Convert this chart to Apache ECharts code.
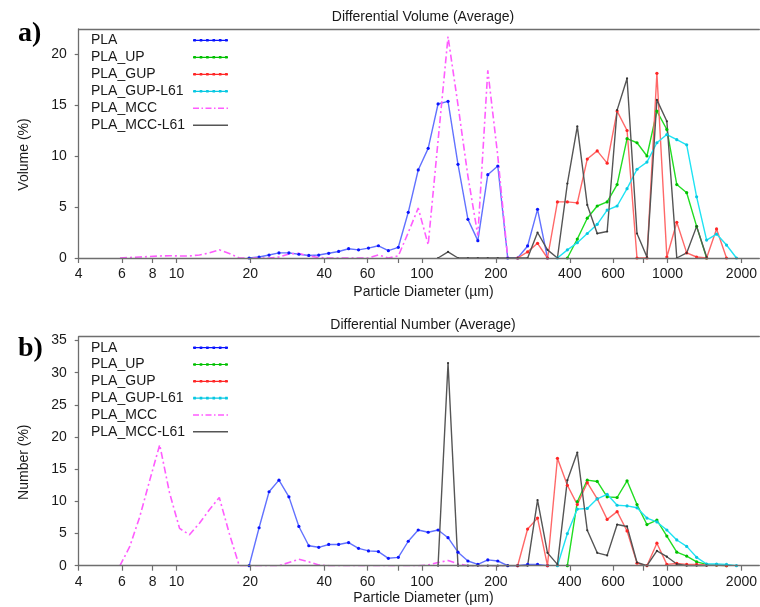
<!DOCTYPE html>
<html><head><meta charset="utf-8">
<script src="https://cdn.jsdelivr.net/npm/echarts@6/dist/echarts.min.js"></script>
<style>html,body{margin:0;padding:0;background:#fff}#c{width:760px;height:607px}</style>
</head><body><div id="c"></div>
<script>
const _ = null;
// particle size bins (µm)
const diameters = [
  5.36, 5.89, 6.46, 7.09, 7.79, 8.55, 9.38, 10.30,
  11.30, 12.41, 13.62, 14.95, 16.42, 18.02, 19.78, 21.71,
  23.84, 26.16, 28.72, 31.53, 34.61, 37.99, 41.71, 45.78,
  50.26, 55.17, 60.56, 66.48, 72.98, 80.12, 87.95, 96.55,
  106.0, 116.3, 127.7, 140.2, 153.9, 168.9, 185.4, 203.6,
  223.5, 245.3, 269.3, 295.6, 324.5, 356.2, 391.0, 429.2,
  471.2, 517.3, 567.8, 623.4, 684.3, 751.2, 824.6, 905.3,
  993.8, 1091, 1197, 1314, 1443, 1584, 1739, 1909];

const seriesNames = ['PLA', 'PLA_UP', 'PLA_GUP', 'PLA_GUP-L61', 'PLA_MCC', 'PLA_MCC-L61'];

// a) Differential Volume (%)
const volPLA = [
  _,_,_,_,_,_,_,_,
  _,_,_,_,_,_, 0, 0.1,
  0.29, 0.5, 0.5, 0.37, 0.25, 0.29, 0.46, 0.64,
  0.91, 0.8, 0.97, 1.2, 0.72, 1.05, 4.48, 8.63,
  10.75, 15.1, 15.36, 9.18, 3.79, 1.7, 8.17, 9.02,
  0, 0, 1.18, 4.77, 0, _,_,_,
  _,_,_,_,_,_,_,_,
  _,_,_,_,_,_,_,_];
const volUP = [
  _,_,_,_,_,_,_,_,
  _,_,_,_,_,_,_,_,
  _,_,_,_,_,_,_,_,
  _,_,_,_,_,_,_,_,
  _,_,_,_,_,_,_,_,
  _,_,_,_,_,_, 0, 1.86,
  3.9, 5.1, 5.5, 7.2, 11.7, 11.3, 10.0, 14.4,
  12.6, 7.2, 6.4, 3.1, 0, _,_,_];
const volGUP = [
  _,_,_,_,_,_,_,_,
  _,_,_,_,_,_,_,_,
  _,_,_,_,_,_,_,_,
  _,_,_,_,_,_,_,_,
  _,_,_,_,_,_,_,_,
  _, 0, 0.6, 1.44, 0, 5.5, 5.5, 5.4,
  9.7, 10.5, 9.3, 14.4, 12.5, 0, 0, 18.1,
  0.1, 3.5, 0.5, 0.1, 0, 2.85, 0, _];
const volGUPL61 = [
  _,_,_,_,_,_,_,_,
  _,_,_,_,_,_,_,_,
  _,_,_,_,_,_,_,_,
  _,_,_,_,_,_,_,_,
  _,_,_,_,_,_,_,_,
  _,_,_,_,_, 0, 0.8, 1.5,
  2.4, 3.3, 4.7, 5.1, 6.8, 8.7, 9.4, 11.3,
  12.1, 11.6, 11.1, 6.0, 1.76, 2.35, 1.27, 0];
const volMCC = [
  _, 0, 0.05, 0.1, 0.15, 0.2, 0.22, 0.2,
  0.2, 0.3, 0.5, 0.8, 0.45, 0, 0, 0,
  0, 0.1, 0.4, 0.45, 0.2, 0.05, 0, 0,
  0, 0, 0, 0.3, 0, 0.2, 2.5, 4.9,
  1.3, 11.5, 21.7, 15, 8, 2.2, 18.4, 10,
  0, _,_,_,_,_,_,_,
  _,_,_,_,_,_,_,_,
  _,_,_,_,_,_,_,_];
const volMCCL61 = [
  _,_,_,_,_,_,_,_,
  _,_,_,_,_,_,_,_,
  _,_,_,_,_,_,_,_,
  _,_,_,_,_,_,_,_,
  _, 0, 0.6, 0, 0, 0, 0, 0,
  0, 0, 0, 2.5, 0.8, 0, 7.3, 12.9,
  5.2, 2.4, 2.6, 14.5, 17.6, 2.4, 0.1, 15.5,
  13.4, 0, 0.5, 3.1, 0.1, _,_,_];

// b) Differential Number (%)
const numPLA = [
  _,_,_,_,_,_,_,_,
  _,_,_,_,_,_, 0, 5.9,
  11.5, 13.3, 10.7, 6.1, 3.1, 2.86, 3.3, 3.3,
  3.6, 2.7, 2.3, 2.2, 1.15, 1.3, 3.8, 5.55,
  5.2, 5.55, 4.35, 2.1, 0.73, 0.2, 0.9, 0.73,
  0, 0, 0.2, 0.2, 0, _,_,_,
  _,_,_,_,_,_,_,_,
  _,_,_,_,_,_,_,_];
const numUP = [
  _,_,_,_,_,_,_,_,
  _,_,_,_,_,_,_,_,
  _,_,_,_,_,_,_,_,
  _,_,_,_,_,_,_,_,
  _,_,_,_,_,_,_,_,
  _,_,_,_,_,_, 0, 9.95,
  13.3, 13.1, 10.7, 10.6, 13.2, 9.5, 6.4, 7.1,
  4.6, 2.1, 1.5, 0.6, 0.2, 0.1, 0, _];
const numGUP = [
  _,_,_,_,_,_,_,_,
  _,_,_,_,_,_,_,_,
  _,_,_,_,_,_,_,_,
  _,_,_,_,_,_,_,_,
  _,_,_,_,_,_,_,_,
  _, 0, 5.7, 7.4, 0, 16.7, 12.5, 9.5,
  12.9, 10.4, 7.2, 8.4, 5.4, 0.4, 0, 3.5,
  0.2, 0.35, 0.2, 0.2, 0.1, 0.1, 0, _];
const numGUPL61 = [
  _,_,_,_,_,_,_,_,
  _,_,_,_,_,_,_,_,
  _,_,_,_,_,_,_,_,
  _,_,_,_,_,_,_,_,
  _,_,_,_,_,_,_,_,
  _,_,_,_,_, 0, 5.0, 8.8,
  8.9, 10.4, 11.1, 9.4, 9.3, 9.0, 7.4, 6.8,
  5.55, 4.0, 3.0, 1.3, 0.26, 0.26, 0.2, 0];
const numMCC = [
  _, 0, 3.0, 7.6, 13.3, 18.8, 11.3, 5.8,
  4.8, 6.6, 8.7, 10.6, 5.0, 0, 0, 0,
  0, 0, 0.5, 1.0, 0.6, 0.1, 0, 0,
  0, 0, 0, 0, 0, 0, 0, 0,
  0.1, 0.5, 0.8, 0.3, 0, 0, 0, 0,
  0, _,_,_,_,_,_,_,
  _,_,_,_,_,_,_,_,
  _,_,_,_,_,_,_,_];
const numMCCL61 = [
  _,_,_,_,_,_,_,_,
  _,_,_,_,_,_,_,_,
  _,_,_,_,_,_,_,_,
  _,_,_,_,_,_,_,_,
  _, 0, 31.5, 0, 0, 0, 0, 0,
  0, 0, 0, 10.2, 2.0, 0.2, 13.3, 17.6,
  5.5, 2.0, 1.6, 6.4, 6.1, 0.5, 0, 2.3,
  1.4, 0.26, 0, 0, 0, _,_,_];

const xLabelValues = [4, 6, 8, 10, 20, 40, 60, 100, 200, 400, 600, 1000, 2000];
const xTickValues = [4, 6, 8, 10, 20, 40, 60, 80, 100, 200, 400, 600, 800, 1000, 2000];
const volTicks = [0, 5, 10, 15, 20];
const numTicks = [0, 5, 10, 15, 20, 25, 30, 35];
const xRange = [4, 2365];
const volMax = 22.45, numMax = 35.6;

// ---------- styling ----------
const FONT = 'Liberation Sans, Arial, sans-serif';
const TXT = '#1a1a1a';
const AX = '#6e6e6e';
const styles = [
  {line: '#6272ff', dot: '#0a14ff', size: 3.2, w: 1.4, type: 'solid'},
  {line: '#22dd22', dot: '#00c000', size: 3.2, w: 1.4, type: 'solid'},
  {line: '#ff6868', dot: '#ff2626', size: 3.2, w: 1.4, type: 'solid'},
  {line: '#1fe3f3', dot: '#08c8e2', size: 3.2, w: 1.4, type: 'solid'},
  {line: '#ff5cff', dot: '#ff5cff', size: 0, w: 1.6, type: [7, 3, 2, 3]},
  {line: '#555555', dot: '#333333', size: 2.2, w: 1.4, type: 'solid'}
];
function dotsPath() {
  let p = 'path://M0,0.7H35V1.9H0Z';
  [1.6, 8, 14.4, 20.8, 27.2, 33.4].forEach(c => {
    p += 'M' + (c - 1.3) + ',0h2.6v2.6h-2.6Z';
  });
  return p;
}
const dashDotPath = 'path://M0,0H6V1.5H0Z M8.5,0H10V1.5H8.5Z M12.5,0H18.5V1.5H12.5Z M21,0H22.5V1.5H21Z M25,0H31V1.5H25Z M33.5,0H35V1.5H33.5Z';
const solidPath = 'path://M0,0H35V1.4H0Z';
const legendIcons = [dotsPath(), dotsPath(), dotsPath(), dotsPath(), dashDotPath, solidPath];

const lg = v => Math.log10(v);
const GL = 78.7, GW = 681.3;
const grids = [
  {left: GL, top: 29, width: GW, height: 229},
  {left: GL, top: 336.7, width: GW, height: 229}
];

function mainX(gi, gap) {
  return {
    type: 'value', gridIndex: gi, min: lg(xRange[0]), max: lg(xRange[1]), z: 3,
    splitLine: {show: false},
    axisLine: {show: true, onZero: false, lineStyle: {color: AX, width: 1.3}},
    axisTick: {show: true, length: 5, lineStyle: {color: AX, width: 1.2}, customValues: xTickValues.map(lg)},
    axisLabel: {show: true, margin: 9.5, fontSize: 14, fontFamily: FONT, color: TXT,
      customValues: xLabelValues.map(lg), formatter: v => String(Math.round(Math.pow(10, v)))},
    name: 'Particle Diameter (\u00b5m)', nameLocation: 'middle', nameGap: gap,
    nameTextStyle: {fontSize: 14, fontFamily: FONT, color: TXT, padding: [0, 0, 0, 9]}
  };
}
function topX(gi) {
  return {
    type: 'value', gridIndex: gi, position: 'top', min: 0, max: 1,
    splitLine: {show: false}, axisTick: {show: false}, axisLabel: {show: false},
    axisLine: {show: true, onZero: false, lineStyle: {color: AX, width: 1.3}}
  };
}
function mainY(gi, max, ticks, name) {
  return {
    type: 'value', gridIndex: gi, min: 0, max: max,
    splitLine: {show: false},
    axisLine: {show: true, onZero: false, lineStyle: {color: AX, width: 1.3}},
    axisTick: {show: true, length: 4, lineStyle: {color: AX, width: 1.2}, customValues: ticks},
    axisLabel: {margin: 12, fontSize: 14, fontFamily: FONT, color: TXT, customValues: ticks},
    name: name, nameLocation: 'middle', nameGap: 48,
    nameTextStyle: {fontSize: 14, fontFamily: FONT, color: TXT, padding: [0, 22, 0, 0]}
  };
}

function mkSeries(name, gi, arr, st) {
  const data = [];
  diameters.forEach((d, i) => { if (arr[i] !== null) data.push([lg(d), arr[i]]); });
  return {
    name: name, type: 'line', xAxisIndex: gi, yAxisIndex: gi, data: data,
    symbol: st.size > 0 ? 'circle' : 'none', symbolSize: st.size, showAllSymbol: true,
    itemStyle: {color: st.dot, borderWidth: 0},
    lineStyle: {color: st.line, width: st.w, type: st.type},
    emphasis: {disabled: true}, animation: false, z: 2
  };
}

function mkLegend(top, gap) {
  return {
    orient: 'vertical', left: 91, top: top, padding: 0, itemGap: gap,
    itemWidth: 35, itemHeight: 14, align: 'right', selectedMode: false,
    data: seriesNames.map((n, k) => ({
      name: n, icon: legendIcons[k],
      itemStyle: {color: styles[k].dot === '#333333' ? '#555555' : styles[k].dot, borderWidth: 0}
    })),
    formatter: '{a|{name}}',
    textStyle: {fontSize: 14, fontFamily: FONT, color: TXT,
      rich: {a: {width: 97, align: 'left', fontSize: 14, lineHeight: 14, fontFamily: FONT, color: TXT}}}
  };
}

const volArrays = [volPLA, volUP, volGUP, volGUPL61, volMCC, volMCCL61];
const numArrays = [numPLA, numUP, numGUP, numGUPL61, numMCC, numMCCL61];
const series = [];
seriesNames.forEach((n, k) => series.push(mkSeries(n, 0, volArrays[k], styles[k])));
seriesNames.forEach((n, k) => series.push(mkSeries(n, 1, numArrays[k], styles[k])));

const option = {
  backgroundColor: '#ffffff',
  animation: false,
  grid: grids,
  xAxis: [mainX(0, 27), mainX(1, 25), topX(0), topX(1)],
  yAxis: [mainY(0, volMax, volTicks, 'Volume (%)'), mainY(1, numMax, numTicks, 'Number (%)')],
  legend: [mkLegend(33.3, 3), mkLegend(340.7, 2.8)],
  graphic: [
    {type: 'text', x: 423, y: 17, style: {text: 'Differential Volume (Average)', font: '14px ' + FONT, fill: TXT, align: 'center', verticalAlign: 'middle'}},
    {type: 'text', x: 423, y: 325, style: {text: 'Differential Number (Average)', font: '14px ' + FONT, fill: TXT, align: 'center', verticalAlign: 'middle'}},
    {type: 'text', x: 18, y: 34, style: {text: 'a)', font: 'bold 28px Liberation Serif, Times New Roman, serif', fill: '#000', align: 'left', verticalAlign: 'middle'}},
    {type: 'text', x: 18, y: 349, style: {text: 'b)', font: 'bold 28px Liberation Serif, Times New Roman, serif', fill: '#000', align: 'left', verticalAlign: 'middle'}}
  ],
  series: series
};
const chart = echarts.init(document.getElementById('c'), null, {renderer: 'canvas'});
chart.setOption(option);
</script>
</body></html>
